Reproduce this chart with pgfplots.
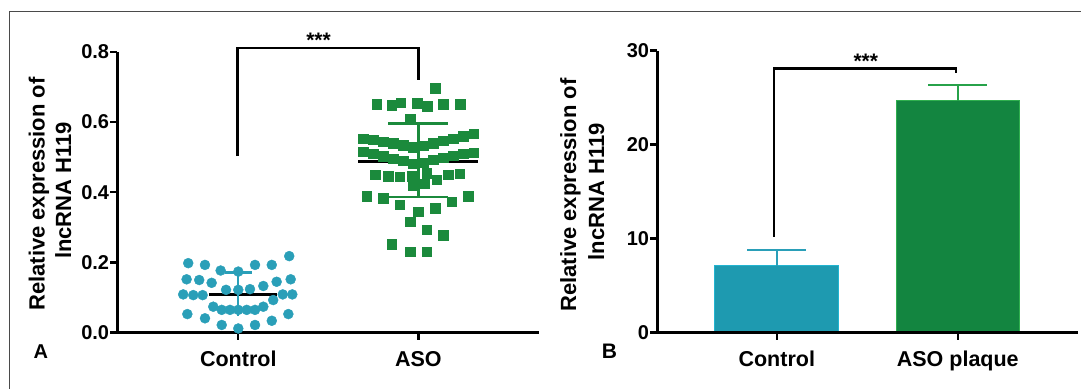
\documentclass[border=0pt]{standalone}
\usepackage{fontspec}
\setmainfont{Liberation Sans}
\usepackage{pgfplots}
\pgfplotsset{compat=1.18}

\definecolor{ctrl}{HTML}{1E9AB0}
\definecolor{ctrledge}{HTML}{22B4D0}
\definecolor{ctrlpt}{HTML}{2A9FB8}
\definecolor{aso}{HTML}{138540}
\definecolor{asoedge}{HTML}{2FAF4E}
\definecolor{asopt}{HTML}{1B8A3C}
\definecolor{framec}{HTML}{4A4A4A}

\pgfplotsset{
  panel/.style={
    scale only axis,
    axis lines=left,
    axis line style={-, line width=2.4bp, black},
    tick align=outside,
    major tick length=7bp,
    tick style={line width=2.4bp, black},
    xtick={0,1},
    clip=false,
    axis on top,
    /pgf/number format/assume math mode=true,
    yticklabel style={font=\bfseries\fontsize{20bp}{22bp}\selectfont, inner sep=1bp},
    xticklabel style={font=\bfseries\fontsize{21.5bp}{24bp}\selectfont, anchor=base, yshift=-27bp},
  }
}

\begin{document}
\begin{tikzpicture}
\useasboundingbox (0bp,0bp) rectangle (1081bp,389bp);
\draw[framec, line width=1.3bp] (9.3bp,0bp) -- (9.3bp,377.3bp) -- (1081bp,377.3bp);

% ---------------- Panel A ----------------
\begin{axis}[panel, at={(117.3bp,56.3bp)}, anchor=south west,
  width=422bp, height=281bp,
  xmin=-0.672, xmax=1.672, ymin=0, ymax=0.8,
  ytick={0,0.2,0.4,0.6,0.8},
  yticklabel style={/pgf/number format/.cd, fixed, fixed zerofill, precision=1},
  xticklabels={Control,ASO}]

\addplot[only marks, mark=*, mark size=5bp, mark options={fill=ctrlpt, draw=ctrlpt}] coordinates {
(-0.278,0.198) (-0.185,0.193) (-0.098,0.177) (0.000,0.174) (0.093,0.193) (0.186,0.193) (0.283,0.218)
(-0.287,0.152) (-0.217,0.150) (-0.148,0.142) (-0.068,0.122) (0.000,0.122) (0.065,0.124) (0.139,0.133)
(0.213,0.145) (0.291,0.152)
(-0.306,0.109) (-0.250,0.107) (-0.198,0.107) (0.194,0.093) (0.247,0.109) (0.300,0.109)
(-0.139,0.074) (-0.092,0.065) (-0.046,0.065) (0.000,0.065) (0.047,0.065) (0.093,0.065) (0.139,0.074)
(-0.283,0.053) (-0.185,0.041) (0.278,0.053) (0.186,0.034)
(-0.092,0.022) (0.000,0.012) (0.093,0.022)
};

\addplot[only marks, mark=square*, mark size=4.7bp, mark options={fill=asopt, draw=asopt}] coordinates {
(1.093,0.696)
(0.769,0.650) (0.852,0.648) (0.902,0.655) (0.994,0.653) (1.050,0.645) (1.139,0.650) (1.232,0.650)
(0.954,0.608)
(0.694,0.553) (0.750,0.549) (0.806,0.544) (0.861,0.539) (0.917,0.534) (0.972,0.528)
(1.028,0.532) (1.083,0.539) (1.139,0.547) (1.194,0.553) (1.250,0.560) (1.306,0.566)
(0.694,0.515) (0.750,0.509) (0.806,0.503) (0.861,0.496) (0.917,0.490) (0.972,0.482)
(1.028,0.484) (1.083,0.492) (1.139,0.499) (1.194,0.504) (1.250,0.509) (1.306,0.512)
(0.760,0.449) (0.833,0.446) (0.898,0.444) (0.963,0.446) (1.046,0.454) (1.102,0.435) (1.167,0.449) (1.231,0.452)
(0.972,0.420) (1.037,0.425)
(0.713,0.389) (0.806,0.383) (0.898,0.364) (1.000,0.345) (1.093,0.354) (1.185,0.373) (1.278,0.389)
(0.954,0.316) (1.046,0.294) (1.139,0.278) (0.852,0.252) (0.954,0.231) (1.046,0.231)
};

% means and SD
\addplot[black, line width=2.6bp] coordinates {(-0.16,0.109) (0.215,0.109)};
\addplot[ctrlpt, line width=2.4bp] coordinates {(0,0.047) (0,0.171)};
\addplot[ctrlpt, line width=2.4bp] coordinates {(-0.075,0.171) (0.075,0.171)};

\addplot[black, line width=2.6bp] coordinates {(0.667,0.487) (1.333,0.487)};
\addplot[asopt, line width=2.4bp] coordinates {(1,0.387) (1,0.596)};
\addplot[asopt, line width=2.4bp] coordinates {(0.833,0.596) (1.167,0.596)};
\addplot[asopt, line width=2.4bp] coordinates {(0.833,0.387) (1.167,0.387)};

% significance bracket
\addplot[black, line width=2.5bp] coordinates {(-0.004,0.503) (-0.004,0.811) (1,0.811) (1,0.719)};
\node[anchor=base, font=\bfseries\fontsize{21bp}{22bp}\selectfont] at (axis cs:0.446,0.811) {***};
\end{axis}

% ---------------- Panel B ----------------
\begin{axis}[panel, at={(657.3bp,56.3bp)}, anchor=south west,
  width=421bp, height=282bp,
  xmin=-0.66, xmax=1.666, ymin=0, ymax=30,
  ytick={0,10,20,30},
  xticklabels={Control,ASO plaque}]

\addplot[ybar, bar width=0.687, bar shift=0pt, fill=ctrl, draw=ctrledge, line width=1bp] coordinates {(0,7.1)};
\addplot[ybar, bar width=0.680, bar shift=0pt, fill=aso, draw=asoedge, line width=1bp] coordinates {(1,24.65)};

\addplot[ctrlpt, line width=2.4bp] coordinates {(0,7.1) (0,8.8)};
\addplot[ctrlpt, line width=2.4bp] coordinates {(-0.164,8.8) (0.164,8.8)};
\addplot[asoedge!70!aso, line width=2.4bp] coordinates {(1,24.65) (1,26.35)};
\addplot[asoedge!70!aso, line width=2.4bp] coordinates {(0.836,26.35) (1.164,26.35)};

\addplot[black, line width=2.5bp] coordinates {(-0.015,10.2) (-0.015,28.1) (0.99,28.1) (0.99,27.6)};
\node[anchor=base, font=\bfseries\fontsize{21bp}{22bp}\selectfont] at (axis cs:0.492,28.1) {***};
\end{axis}

% y labels
\node[rotate=90, anchor=base, inner sep=0pt, font=\bfseries\fontsize{22bp}{26bp}\selectfont] at (44.5bp,195bp) {Relative expression of};
\node[rotate=90, anchor=base, inner sep=0pt, font=\bfseries\fontsize{22bp}{26bp}\selectfont] at (71bp,198.5bp) {lncRNA H119};
\node[rotate=90, anchor=base, inner sep=0pt, font=\bfseries\fontsize{22bp}{26bp}\selectfont] at (576bp,194bp) {Relative expression of};
\node[rotate=90, anchor=base, inner sep=0pt, font=\bfseries\fontsize{22bp}{26bp}\selectfont] at (604bp,197.3bp) {lncRNA H119};

% panel letters
\node[anchor=base west, inner sep=0pt, font=\bfseries\fontsize{20bp}{22bp}\selectfont] at (33.3bp,30.7bp) {A};
\node[anchor=base west, inner sep=0pt, font=\bfseries\fontsize{21bp}{22bp}\selectfont] at (601.7bp,30.7bp) {B};
\end{tikzpicture}
\end{document}
